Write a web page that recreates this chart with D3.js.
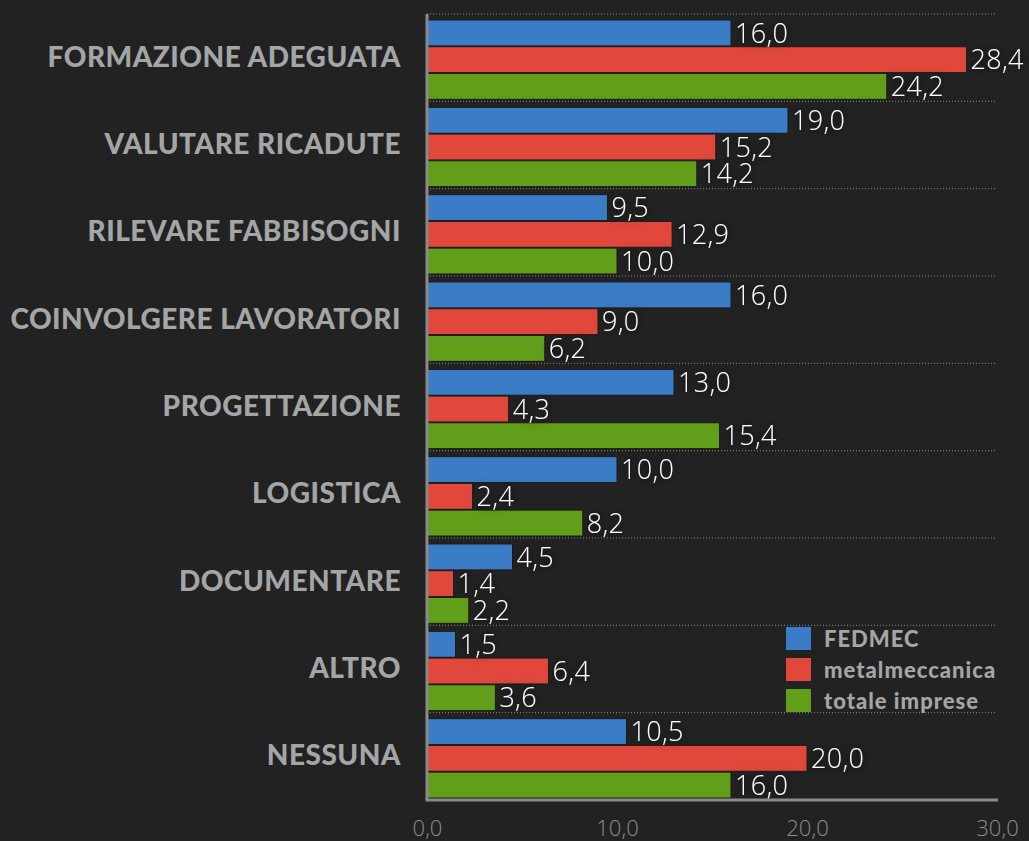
<!DOCTYPE html>
<html>
<head>
<meta charset="utf-8">
<script src="https://cdn.jsdelivr.net/npm/d3@7"></script>
<style>
  html, body { margin: 0; padding: 0; background: #222222; }
  svg { display: block; }
</style>
</head>
<body>
<svg id="chart"></svg>
<script>
// data
var categories = ["FORMAZIONE ADEGUATA", "VALUTARE RICADUTE", "RILEVARE FABBISOGNI",
  "COINVOLGERE LAVORATORI", "PROGETTAZIONE", "LOGISTICA", "DOCUMENTARE", "ALTRO", "NESSUNA"];
var seriesNames = ["FEDMEC", "metalmeccanica", "totale imprese"];
var fedmec = [16.0, 19.0, 9.5, 16.0, 13.0, 10.0, 4.5, 1.5, 10.5];
var metalmeccanica = [28.4, 15.2, 12.9, 9.0, 4.3, 2.4, 1.4, 6.4, 20.0];
var totaleImprese = [24.2, 14.2, 10.0, 6.2, 15.4, 8.2, 2.2, 3.6, 16.0];
var xTicks = [0, 10, 20, 30];

var colors = ["#3a7cc5", "#e1473b", "#619e19"];

var width = 1029, height = 841;
var margin = {top: 14, right: 32, bottom: 41, left: 427};

var svg = d3.select('#chart')
  .attr('width', width)
  .attr('height', height);

var defs = svg.append('defs');
var shadow = defs.append('filter').attr('id', 'label-shadow')
  .attr('x', '-20%').attr('y', '-30%').attr('width', '140%').attr('height', '160%');
shadow.append('feGaussianBlur').attr('in', 'SourceAlpha').attr('stdDeviation', 4).attr('result', 'blur');
shadow.append('feFlood').attr('flood-color', '#111').attr('flood-opacity', 0.9);
shadow.append('feComposite').attr('in2', 'blur').attr('operator', 'in');
var merge = shadow.append('feMerge');
merge.append('feMergeNode');
merge.append('feMergeNode').attr('in', 'SourceGraphic');

// scales
var xScale = d3.scaleLinear()
  .domain([0, 30])
  .range([margin.left, width - margin.right]);

var yScale = d3.scaleBand()
  .domain(categories)
  .range([margin.top, height - margin.bottom]);

var inner = d3.scaleBand()
  .domain(seriesNames)
  .range([6, yScale.bandwidth() - 2])
  .paddingInner(0.03);

var fmt = function(v){ return d3.format('.1f')(v).replace('.', ','); };

// dotted gridlines at band boundaries
svg.append('g')
  .selectAll('line')
  .data(categories)
  .join('line')
  .attr('x1', xScale(0))
  .attr('x2', xScale(30))
  .attr('y1', function(d){ return yScale(d); })
  .attr('y2', function(d){ return yScale(d); })
  .attr('stroke', '#8a8a8a')
  .attr('stroke-width', 1)
  .attr('stroke-dasharray', '1,2');

var table = categories.map(function(c, i){
  return {cat: c, values: [fedmec[i], metalmeccanica[i], totaleImprese[i]]};
});

var groups = svg.append('g')
  .selectAll('g')
  .data(table)
  .join('g')
  .attr('transform', function(d){ return 'translate(0,' + yScale(d.cat) + ')'; });

groups.selectAll('rect')
  .data(function(d){ return d.values.map(function(v, k){ return {s: seriesNames[k], v: v, k: k}; }); })
  .join('rect')
  .attr('x', xScale(0))
  .attr('y', function(d){ return inner(d.s); })
  .attr('width', function(d){ return xScale(d.v) - xScale(0); })
  .attr('height', inner.bandwidth())
  .attr('fill', function(d){ return colors[d.k]; })
  .attr('stroke', '#1a1a1a')
  .attr('stroke-width', 1);

groups.selectAll('text')
  .data(function(d){ return d.values.map(function(v, k){ return {s: seriesNames[k], v: v, k: k}; }); })
  .join('text')
  .attr('x', function(d){ return xScale(d.v) + 4; })
  .attr('y', function(d){ return inner(d.s) + inner.bandwidth() / 2; })
  .attr('dy', '0.36em')
  .attr('filter', 'url(#label-shadow)')
  .style('font-family', '"Open Sans", sans-serif')
  .style('font-weight', 300)
  .style('font-size', '27px')
  .style('letter-spacing', '0.3px')
  .style('fill', '#ffffff')
  .text(function(d){ return fmt(d.v); });

// axes
var yAxis = d3.axisLeft(yScale).tickSize(0).tickPadding(26);
var gy = svg.append('g')
  .attr('transform', 'translate(' + xScale(0) + ',0)')
  .call(yAxis);
gy.select('.domain').remove();
gy.selectAll('text')
  .style('font-family', 'Lato, sans-serif')
  .style('font-weight', 900)
  .style('font-size', '28px')
  .style('letter-spacing', '0.5px')
  .style('fill', '#a3a6a6');

var xAxis = d3.axisBottom(xScale)
  .tickValues(xTicks)
  .tickSize(0)
  .tickPadding(20)
  .tickFormat(fmt);
var gx = svg.append('g')
  .attr('transform', 'translate(0,' + (height - margin.bottom) + ')')
  .call(xAxis);
gx.select('.domain').remove();
gx.selectAll('text')
  .style('font-family', '"Open Sans", sans-serif')
  .style('font-weight', 300)
  .style('font-size', '22px')
  .style('fill', '#8c8c8c');

// axis lines
svg.append('line')
  .attr('x1', xScale(0)).attr('x2', xScale(0))
  .attr('y1', margin.top).attr('y2', height - margin.bottom)
  .attr('stroke', '#8a8a8a').attr('stroke-width', 3);
svg.append('line')
  .attr('x1', xScale(0) - 1.5).attr('x2', xScale(30) + 1)
  .attr('y1', height - margin.bottom).attr('y2', height - margin.bottom)
  .attr('stroke', '#8a8a8a').attr('stroke-width', 3);

// legend
var legend = svg.append('g')
  .attr('transform', 'translate(786,627)')
  .selectAll('g')
  .data(seriesNames)
  .join('g')
  .attr('transform', function(d, i){ return 'translate(0,' + (i * 31) + ')'; });
legend.append('rect')
  .attr('width', 25).attr('height', 23)
  .attr('fill', function(d, i){ return colors[i]; });
legend.append('text')
  .attr('x', 38).attr('y', 12).attr('dy', '0.35em')
  .style('font-family', 'Lato, sans-serif')
  .style('font-weight', 900)
  .style('font-size', '22px')
  .style('letter-spacing', '1px')
  .style('fill', '#a3a6a6')
  .text(function(d){ return d; });
</script>
</body>
</html>
